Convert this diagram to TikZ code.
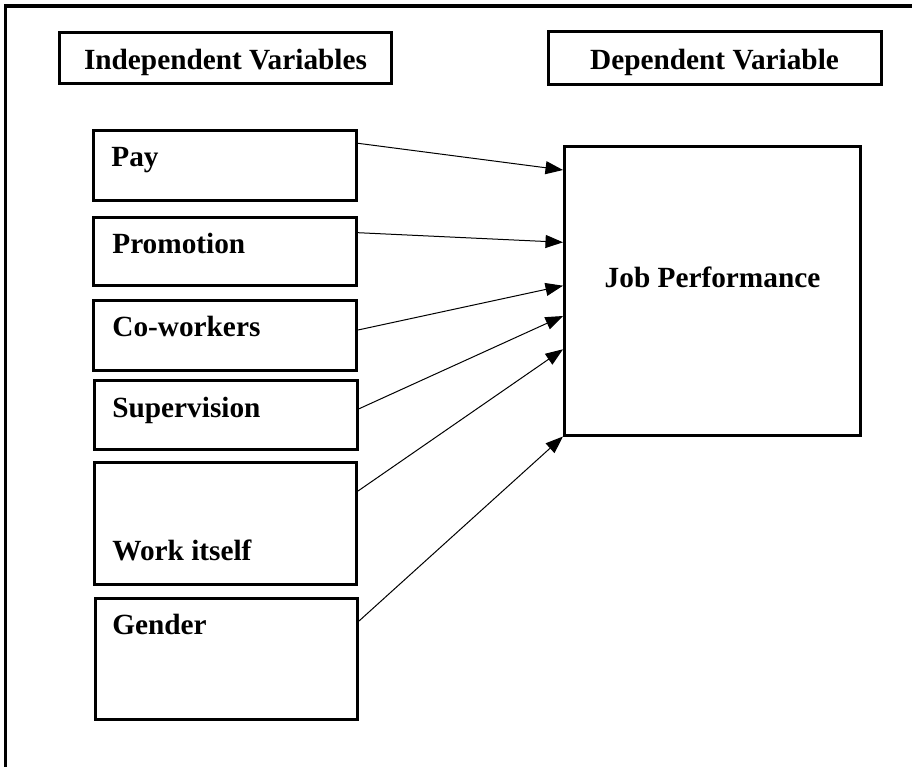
\documentclass[tikz,border=0pt]{standalone}
\usepackage{fontspec}
\setmainfont{Liberation Serif}
\usetikzlibrary{arrows.meta}

\tikzset{
	box/.style={draw, line width=0.6mm, inner sep=0pt, anchor=north west},
	hdr/.style={box, text height=4.6mm, text depth=0pt},
	lbl/.style={inner sep=0pt, anchor=base west},
	arr/.style={line width=0.2mm, -{Triangle[length=3.5mm, width=2.6mm]}}
}

\begin{document}
\begin{tikzpicture}[x=0.2mm, y=-0.2mm, font=\fontsize{16.67}{20}\selectfont\bfseries]
	\useasboundingbox (0,0) rectangle (912,766);
	\draw[line width=0.65mm] (5.5,770) -- (5.5,6) -- (915,6);
	\node[hdr, minimum width=66.4mm, minimum height=10.2mm] (indep) at (58,31) {Independent Variables};
	\node[hdr, minimum width=66.6mm, minimum height=10.4mm] (dep) at (546.5,30.5) {Dependent Variable};
	\node[box, minimum width=52.6mm, minimum height=13.9mm] (pay) at (92,129) {};
	\node[box, minimum width=52.6mm, minimum height=13.7mm] (promo) at (92,215.5) {};
	\node[box, minimum width=52.6mm, minimum height=13.9mm] (cowork) at (92,299) {};
	\node[box, minimum width=52.6mm, minimum height=13.8mm] (superv) at (92.5,378.5) {};
	\node[box, minimum width=52.5mm, minimum height=24.4mm] (work) at (92.5,460.5) {};
	\node[box, minimum width=52.5mm, minimum height=24.2mm] (gender) at (93.5,596.5) {};
	\node[box, minimum width=59.2mm, minimum height=57.7mm, text height=0pt, text depth=1.3mm] (job) at (563,145) {Job Performance};
	\node[lbl] (paytxt) at (111,166) {Pay};
	\node[lbl] (promotxt) at (112,253) {Promotion};
	\node[lbl] (coworktxt) at (112,336) {Co-workers};
	\node[lbl] (supervtxt) at (112,417) {Supervision};
	\node[lbl] (worktxt) at (112,560) {Work itself};
	\node[lbl] (gendertxt) at (112,634) {Gender};
	\draw[arr] (pay.east |- 0,143.3) -- (job.west |- 0,170);
	\draw[arr] (promo.east |- 0,232.7) -- (job.west |- 0,242.3);
	\draw[arr] (cowork.east |- 0,330) -- (job.west |- 0,285.7);
	\draw[arr] (superv.east |- 0,409) -- (job.west |- 0,316);
	\draw[arr] (work.east |- 0,491) -- (job.west |- 0,349.3);
	\draw[arr] (gender.east |- 0,621) -- (job.south west);
\end{tikzpicture}
\end{document}
